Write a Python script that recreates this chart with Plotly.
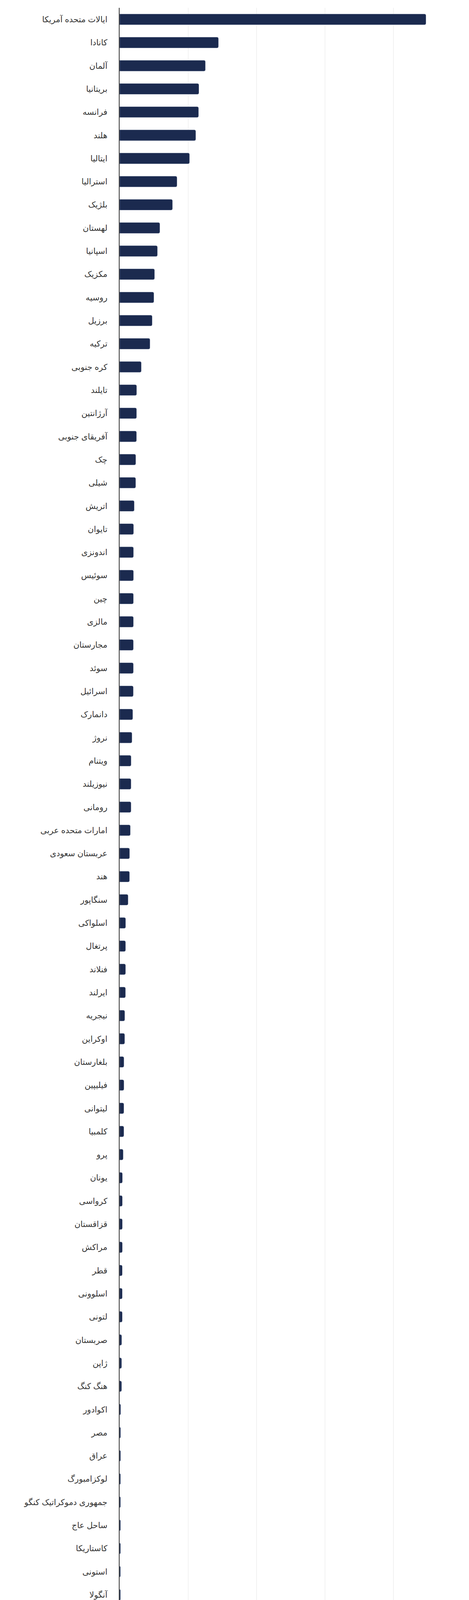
import plotly.graph_objects as go

# کشورها و ارزش واردات لیفتراک (میلیون دلار)
countries = [
    "ایالات متحده آمریکا", "کانادا", "آلمان", "بریتانیا", "فرانسه", "هلند", "ایتالیا",
    "استرالیا", "بلژیک", "لهستان", "اسپانیا", "مکزیک", "روسیه", "برزیل", "ترکیه",
    "کره جنوبی", "تایلند", "آرژانتین", "آفریقای جنوبی", "چک", "شیلی", "اتریش", "تایوان",
    "اندونزی", "سوئیس", "چین", "مالزی", "مجارستان", "سوئد", "اسرائیل", "دانمارک", "نروژ",
    "ویتنام", "نیوزیلند", "رومانی", "امارات متحده عربی", "عربستان سعودی", "هند", "سنگاپور",
    "اسلواکی", "پرتغال", "فنلاند", "ایرلند", "نیجریه", "اوکراین", "بلغارستان", "فیلیپین",
    "لیتوانی", "کلمبیا", "پرو", "یونان", "کرواسی", "قزاقستان", "مراکش", "قطر", "اسلوونی",
    "لتونی", "صربستان", "ژاپن", "هنگ کنگ", "اکوادور", "مصر", "عراق", "لوکزامبورگ",
    "جمهوری دموکراتیک کنگو", "ساحل عاج", "کاستاریکا", "استونی", "آنگولا", "تونس",
    "ازبکستان", "بنگلادش", "الجزایر", "ایسلند", "اروگوئه", "ایران", "پاکستان", "غنا",
    "کویت", "کنیا", "عمان", "هندوراس", "پاناما", "پاپوآ گینه نو", "بلاروس", "تانزانیا",
    "جمهوری دومینیکن", "بوسنی و هرزگوین", "السالوادور", "کامبوج", "گواتمالا", "پاراگوئه",
    "سنگال", "زیمباوه", "مولداوی", "آذربایجان", "موزامبیک",
]

import_values = [
    4480, 1446, 1255, 1160, 1155, 1114, 1023,
    840, 774, 589, 554, 512, 502, 477, 445,
    318, 250, 249, 248, 237, 236, 215, 205,
    204, 204, 203, 203, 202, 202, 201, 193, 182,
    169, 168, 168, 158, 147, 146, 125,
    89, 88, 88, 87, 76, 75, 64, 64,
    63, 63, 53, 42, 41, 41, 41, 40, 40,
    40, 31, 30, 30, 17, 16, 16, 15,
    15, 15, 15, 14, 14, 14,
    14, 13, 12, 11, 4, 4, 3, 3,
    3, 3, 2, 2, 2, 2, 2, 2,
    2, 1, 1, 1, 1, 1,
    1, 1, 1, 1, 1,
]

tick_values = [0, 1000, 2000, 3000, 4000, 5000]
# last label nudged left so it stays inside the chart, like the original
tick_labels = ["0", "1k", "2k", "3k", "4k", "5k\u00a0\u00a0\u00a0\u00a0"]

series_name = "ارزش واردات لیفتراک"
axis_title = "میلیون دلار"
watermark = "AmarFact.com"

bar_color = "#1b2a4f"
font_family = "Liberation Sans, DejaVu Sans, sans-serif"

# the page body adds an 8px margin, so the figure is 8px smaller than the window
W, H = 1192, 5992
m = dict(l=298, r=19, t=12, b=227)
plot_w = W - m["l"] - m["r"]
plot_h = H - m["t"] - m["b"]


def px_x(dx):
    # pixels right of the plot's left edge -> paper x
    return dx / plot_w


def px_y(dy):
    # pixels below the plot's bottom edge -> paper y
    return -dy / plot_h


fig = go.Figure()
fig.add_trace(go.Bar(
    x=import_values, y=countries, orientation="h",
    marker=dict(color=bar_color, cornerradius=4),
    name=series_name, showlegend=False,
))

fig.update_layout(
    width=W, height=H, margin=m,
    paper_bgcolor="white", plot_bgcolor="white",
    font=dict(family=font_family, color="#333333"),
    bargap=0.53,
    xaxis=dict(
        range=[0, 5000], tickvals=tick_values, ticktext=tick_labels,
        showgrid=True, gridcolor="#e6e6e6", gridwidth=1,
        zeroline=False, showline=False, ticks="",
        tickfont=dict(size=23, color="#444444"), ticklabelstandoff=35,
        automargin=False, fixedrange=True,
    ),
    yaxis=dict(
        autorange="reversed", showgrid=False, zeroline=False,
        showline=True, linecolor="#333333", linewidth=2, ticks="",
        tickfont=dict(size=21, color="#333333"), ticklabelstandoff=25,
        automargin=False, fixedrange=True,
    ),
    shapes=[dict(
        type="circle", xref="paper", yref="paper",
        xsizemode="pixel", ysizemode="pixel",
        xanchor=px_x(181), yanchor=px_y(167),
        x0=-11.7, x1=11.7, y0=-11.7, y1=11.7,
        fillcolor=bar_color, line=dict(width=0),
    )],
    annotations=[
        dict(text=axis_title, xref="paper", yref="paper", x=0.5, y=px_y(99),
             xanchor="center", yanchor="middle", showarrow=False,
             font=dict(size=21, color="#666666")),
        dict(text=series_name, xref="paper", yref="paper", x=px_x(207), y=px_y(167),
             xanchor="left", yanchor="middle", showarrow=False,
             font=dict(size=21, color="#333333")),
        dict(text=watermark, xref="paper", yref="paper", x=px_x(872), y=px_y(212),
             xanchor="right", yanchor="middle", showarrow=False,
             font=dict(size=18, color="#aaaaaa")),
    ],
)

fig.write_html("out.html")
